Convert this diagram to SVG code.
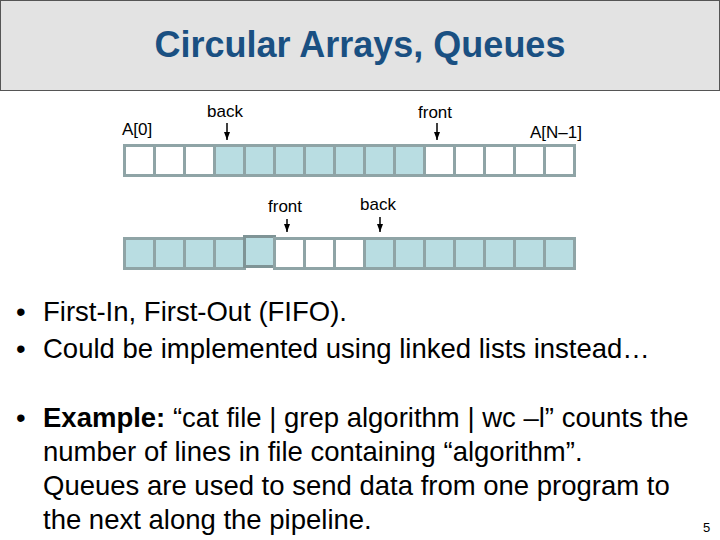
<svg xmlns="http://www.w3.org/2000/svg" width="720" height="540" viewBox="0 0 720 540">
<style>
text{font-family:"Liberation Sans",Arial,sans-serif;fill:#000}
.lbl{font-size:17px}
.c{stroke:#8fa4a6;stroke-width:3}
.w{fill:#fff}.f{fill:#b9dde2}
.b{font-size:27.5px}
</style>
<defs>
<marker id="a2" markerWidth="8" markerHeight="9" refX="3" refY="8" orient="0" markerUnits="userSpaceOnUse"><path d="M0,0 L6,0 L3,8 Z" fill="#000"/></marker></defs>
<rect x="0.5" y="0.5" width="719" height="90" fill="#e3e3e3" stroke="#555"/>
<text x="360" y="57" text-anchor="middle" style="font-size:36px;font-weight:bold;fill:#1a5082">Circular Arrays, Queues</text>
<g id="array1">
<rect class="c w" x="124.5" y="145.5" width="30" height="30"/><rect class="c w" x="154.5" y="145.5" width="30" height="30"/><rect class="c w" x="184.5" y="145.5" width="30" height="30"/>
<rect class="c f" x="214.5" y="145.5" width="30" height="30"/><rect class="c f" x="244.5" y="145.5" width="30" height="30"/><rect class="c f" x="274.5" y="145.5" width="30" height="30"/><rect class="c f" x="304.5" y="145.5" width="30" height="30"/><rect class="c f" x="334.5" y="145.5" width="30" height="30"/><rect class="c f" x="364.5" y="145.5" width="30" height="30"/><rect class="c f" x="394.5" y="145.5" width="30" height="30"/>
<rect class="c w" x="424.5" y="145.5" width="30" height="30"/><rect class="c w" x="454.5" y="145.5" width="30" height="30"/><rect class="c w" x="484.5" y="145.5" width="30" height="30"/><rect class="c w" x="514.5" y="145.5" width="30" height="30"/><rect class="c w" x="544.5" y="145.5" width="30" height="30"/>
</g>
<g id="array2">
<rect class="c f" x="124.5" y="238.5" width="30" height="30"/><rect class="c f" x="154.5" y="238.5" width="30" height="30"/><rect class="c f" x="184.5" y="238.5" width="30" height="30"/><rect class="c f" x="214.5" y="238.5" width="30" height="30"/><rect class="c f" x="244.5" y="236.5" width="30" height="30" style="stroke:#7f9496"/>
<rect class="c w" x="274.5" y="238.5" width="30" height="30"/><rect class="c w" x="304.5" y="238.5" width="30" height="30"/><rect class="c w" x="334.5" y="238.5" width="30" height="30"/>
<rect class="c f" x="364.5" y="238.5" width="30" height="30"/><rect class="c f" x="394.5" y="238.5" width="30" height="30"/><rect class="c f" x="424.5" y="238.5" width="30" height="30"/><rect class="c f" x="454.5" y="238.5" width="30" height="30"/><rect class="c f" x="484.5" y="238.5" width="30" height="30"/><rect class="c f" x="514.5" y="238.5" width="30" height="30"/><rect class="c f" x="544.5" y="238.5" width="30" height="30"/>
</g>
<g id="labels">
<text class="lbl" x="122" y="135">A[0]</text>
<text class="lbl" x="207" y="117">back</text>
<text class="lbl" x="418" y="118">front</text>
<text class="lbl" x="530" y="138">A[N–1]</text>
<text class="lbl" x="268" y="212">front</text>
<text class="lbl" x="360" y="210">back</text>
</g>
<g id="connectors" stroke="#000" stroke-width="1.5">
<line x1="227" y1="123" x2="227" y2="140" marker-end="url(#a2)"/>
<line x1="437" y1="123" x2="437" y2="140" marker-end="url(#a2)"/>
<line x1="287" y1="219" x2="287" y2="232" marker-end="url(#a2)"/>
<line x1="380" y1="217" x2="380" y2="232" marker-end="url(#a2)"/>
</g>
<g id="text">
<text class="b" x="16" y="321">•</text><text class="b" x="43" y="321">First-In, First-Out (FIFO).</text>
<text class="b" x="16" y="358">•</text><text class="b" x="43" y="358">Could be implemented using linked lists instead…</text>
<text class="b" x="16" y="427">•</text><text class="b" x="43" y="427"><tspan font-weight="bold">Example:</tspan> “cat file | grep algorithm | wc –l” counts the</text>
<text class="b" x="43" y="461">number of lines in file containing “algorithm”.</text>
<text class="b" x="43" y="495">Queues are used to send data from one program to</text>
<text class="b" x="43" y="529">the next along the pipeline.</text>
<text x="703" y="532" style="font-size:13px">5</text>
</g>
</svg>
